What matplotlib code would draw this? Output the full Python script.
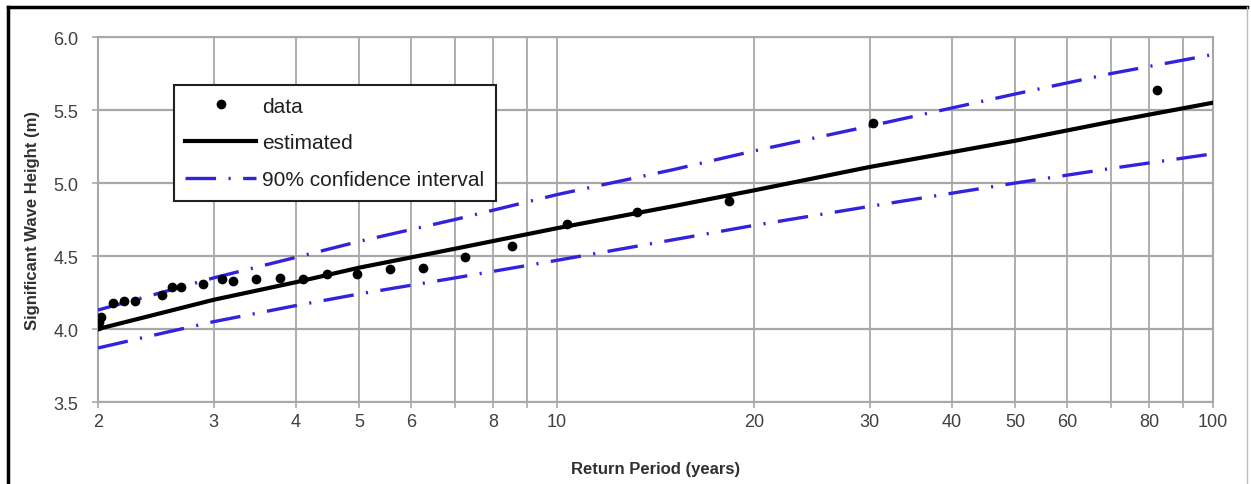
import matplotlib
matplotlib.use("Agg")
import matplotlib.pyplot as plt
from matplotlib.lines import Line2D
from matplotlib.ticker import FixedLocator, NullFormatter

plt.rcParams['font.family'] = ['Liberation Sans', 'DejaVu Sans']
plt.rcParams['lines.scale_dashes'] = False

# observed annual maxima (return period in years, wave height in m)
data_T = [2.00, 2.01, 2.02, 2.105, 2.19, 2.28, 2.50, 2.59, 2.68, 2.89, 3.09, 3.21,
          3.48, 3.79, 4.10, 4.46, 4.96, 5.57, 6.26, 7.25, 8.54, 10.38, 13.25,
          18.33, 30.3, 82.1]
data_H = [4.02, 4.05, 4.08, 4.18, 4.19, 4.19, 4.23, 4.29, 4.29, 4.31, 4.34, 4.33,
          4.34, 4.35, 4.34, 4.38, 4.38, 4.41, 4.42, 4.49, 4.57, 4.72, 4.80,
          4.88, 5.41, 5.64]

# fitted curve and 90% band
fit_T = [2, 2.5, 3, 4, 5, 7, 10, 15, 20, 30, 50, 70, 100]
fit_H = [4.00, 4.11, 4.20, 4.32, 4.42, 4.55, 4.69, 4.84, 4.95, 5.11, 5.29, 5.42, 5.55]
upper_H = [4.13, 4.25, 4.35, 4.49, 4.60, 4.75, 4.92, 5.09, 5.22, 5.39, 5.61, 5.75, 5.88]
lower_H = [3.87, 3.97, 4.05, 4.16, 4.24, 4.35, 4.47, 4.61, 4.71, 4.84, 5.00, 5.10, 5.20]

x_major = [2, 3, 4, 5, 6, 8, 10, 20, 30, 40, 50, 60, 80, 100]
x_grid = [2, 3, 4, 5, 6, 7, 8, 9, 10, 20, 30, 40, 50, 60, 70, 80, 90, 100]
y_ticks = [3.5, 4.0, 4.5, 5.0, 5.5, 6.0]

grid_col = '#a8a8a8'
blue = '#3322dd'

fig = plt.figure(figsize=(12.51, 4.85), dpi=100)
ax = fig.add_axes([98 / 1251, 1 - 403 / 485, 1115 / 1251, 365 / 485])

ax.set_xscale('log')
ax.set_xlim(2, 100)
ax.set_ylim(3.5, 6.0)

for t in x_grid:
    ax.axvline(t, color=grid_col, lw=1.3, zorder=0)
for h in y_ticks:
    ax.axhline(h, color=grid_col, lw=1.6, zorder=0)

ax.plot(data_T, data_H, 'o', color='black', ms=6, label='data', zorder=4)
ax.plot(fit_T, fit_H, '-', color='black', lw=3.0, label='estimated', zorder=3)
dash = (22, 9, 1.5, 9)
ax.plot(fit_T, upper_H, color=blue, lw=2.4, dashes=dash,
        label='90% confidence interval', zorder=3)
ax.plot(fit_T, lower_H, color=blue, lw=2.4, dashes=dash, zorder=3)

ax.xaxis.set_major_locator(FixedLocator(x_major))
ax.xaxis.set_minor_locator(FixedLocator([7, 9, 70, 90]))
ax.xaxis.set_minor_formatter(NullFormatter())
ax.set_xticklabels([str(v) for v in x_major])
ax.set_yticks(y_ticks)
ax.set_yticklabels([f'{v:.1f}' for v in y_ticks])

ax.tick_params(axis='both', which='both', colors=grid_col, labelcolor='#404040',
               labelsize=13, length=4, width=1.2)
ax.tick_params(axis='x', pad=4)
ax.tick_params(axis='y', pad=10)
for s in ax.spines.values():
    s.set_color(grid_col)
    s.set_linewidth(1.5)

ax.set_xlabel('Return Period (years)', fontsize=12, fontweight='bold',
              color='#303030', labelpad=22)
ax.set_ylabel('Significant Wave Height (m)', fontsize=12, fontweight='bold',
              color='#303030', labelpad=10)

leg = ax.legend(loc='upper left', bbox_to_anchor=(0.068, 0.868), borderaxespad=0,
                fontsize=15, handlelength=3.4, handletextpad=0.3, labelspacing=0.85,
                borderpad=0.55, numpoints=1, fancybox=False, framealpha=1)
leg.get_frame().set_edgecolor('#202020')
leg.get_frame().set_linewidth(1.5)
for txt in leg.get_texts():
    txt.set_color('#202020')

# outer frame of the figure
fig.add_artist(Line2D([8 / 1251, 8 / 1251], [0, 1 - 8 / 485], color='black', lw=2.5))
fig.add_artist(Line2D([8 / 1251, 1247 / 1251], [1 - 8 / 485, 1 - 8 / 485], color='black', lw=2.5))
fig.add_artist(Line2D([1247 / 1251, 1247 / 1251], [0, 1 - 8 / 485], color='#bbbbbb', lw=1))

fig.savefig('out.png', dpi=100)
